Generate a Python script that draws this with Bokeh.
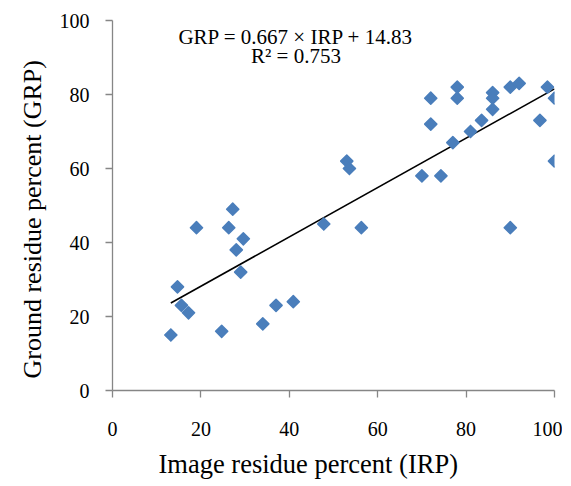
import math
from bokeh.plotting import figure
from bokeh.embed import file_html
from bokeh.resources import INLINE
from bokeh.models import Range1d, FixedTicker, Label, Title

irp = [13.2, 14.7, 15.6, 17.2, 19, 24.7, 26.3, 27.2, 28, 29.6, 29, 34, 37, 40.9, 47.8, 56.3, 90,
       53, 53.6, 70, 74.3, 72, 72, 78, 78, 77, 81, 83.5, 86, 86, 86, 90, 92, 98.4, 100, 96.7, 100]
grp = [15, 28, 23, 21, 44, 16, 44, 49, 38, 41, 32, 18, 23, 24, 45, 44, 44,
       62, 60, 58, 58, 79, 72, 82, 79, 67, 70, 73, 80.5, 79, 76, 82, 83, 82, 79, 73, 62]
slope = 0.667
intercept = 14.83
eq_text = "GRP = 0.667 × IRP + 14.83"
r2_text = "R² = 0.753"
x_title = "Image residue percent (IRP)"
y_title = "Ground residue percent (GRP)"
x_ticks = [0, 20, 40, 60, 80, 100]
y_ticks = [0, 20, 40, 60, 80, 100]

p = figure(width=562, height=486, output_backend="svg", toolbar_location=None,
           x_range=Range1d(0, 100), y_range=Range1d(0, 100),
           min_border_left=112, min_border_right=8, min_border_top=20, min_border_bottom=95)
p.outline_line_color = None
p.xgrid.visible = False
p.ygrid.visible = False

font = "Liberation Serif"
for ax in (p.xaxis[0], p.yaxis[0]):
    ax.axis_line_color = "#868686"
    ax.axis_line_width = 1.3
    ax.major_tick_line_color = "#868686"
    ax.major_tick_line_width = 1.3
    ax.minor_tick_line_color = None
    ax.major_tick_in = 0
    ax.major_tick_out = 7
    ax.major_label_text_font = font
    ax.major_label_text_font_size = "20px"
    ax.major_label_text_color = "black"

p.xaxis.ticker = FixedTicker(ticks=x_ticks)
p.yaxis.ticker = FixedTicker(ticks=y_ticks)
p.xaxis.major_label_standoff = 24
p.yaxis.major_label_standoff = 16

x0, x1 = min(irp), max(irp)
p.line([x0, x1], [slope * x0 + intercept, slope * x1 + intercept], line_color="black", line_width=1.6)
p.scatter(irp, grp, marker="square", size=8.6, angle=math.pi / 4,
          fill_color="#4A7EBB", line_color="#4A7EBB", line_width=1.5, line_join="round")

p.add_layout(Label(x=41.5, y=95.6, text=eq_text, text_font=font, text_font_size="21px",
                   text_align="center", text_baseline="alphabetic", text_color="black"))
p.add_layout(Label(x=41.5, y=90.4, text=r2_text, text_font=font, text_font_size="21px",
                   text_align="center", text_baseline="alphabetic", text_color="black"))

p.add_layout(Title(text=x_title, align="left", offset=46, text_font=font, text_font_size="26.5px",
                   text_font_style="normal", text_color="black", standoff=16,
                   text_line_height=0.6), "below")
p.add_layout(Title(text=y_title, align="left", offset=12, text_font=font, text_font_size="26px",
                   text_font_style="normal", text_color="black", standoff=20), "left")

open("out.html", "w").write(file_html(p, INLINE))
